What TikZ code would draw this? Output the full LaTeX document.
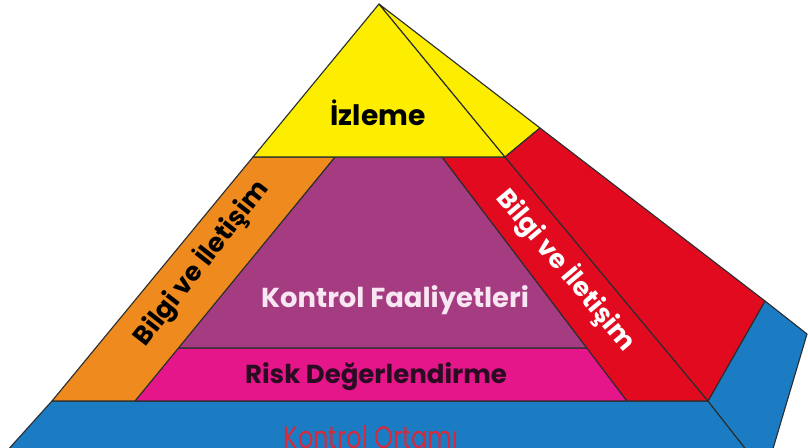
\documentclass[tikz,border=0pt]{standalone}
\usepackage{fontspec}
\setmainfont{Poppins}
\usetikzlibrary{positioning}
\definecolor{Yellow}{HTML}{FDEE00}
\definecolor{Orange}{HTML}{EE8A1E}
\definecolor{Mauve}{HTML}{A53B80}
\definecolor{Pink}{HTML}{E5168A}
\definecolor{Red}{HTML}{E20A1F}
\definecolor{Blue}{HTML}{1B7CC4}
\definecolor{Edge}{HTML}{2A2E2E}
\definecolor{Ink}{HTML}{2A0C22}
\definecolor{Soft}{HTML}{F8E6F2}
\definecolor{Base}{HTML}{D42A3C}

\begin{document}
\begin{tikzpicture}[x=0.025cm,y=-0.025cm,
    face/.style={draw=Edge,line width=0.8pt,line join=round},
    tag/.style={inner sep=0pt,anchor=base,font=\bfseries\fontsize{19.5}{22}\selectfont},
    side/.style={inner sep=0pt,font=\bfseries\fontsize{18.5}{20}\selectfont}
  ]
    \useasboundingbox (0,0) rectangle (808,447);
    \fill[white] (0,0) rectangle (808,447);
    \clip (0,0) rectangle (808,447);

    % base slab
    \draw[face,fill=Blue] (52,401) -- (708,401) -- (748,452) -- (6,452) -- cycle;
    \draw[face,fill=Blue] (708,401) -- (765,301) -- (807,334) -- (772,452)
      -- (748,452) -- cycle;

    % front faces
    \draw[face,fill=Pink] (135,401) -- (627,401) -- (587,348) -- (178,348) -- cycle;
    \draw[face,fill=Mauve] (178,348) -- (587,348) -- (442,157) -- (335,157) -- cycle;
    \draw[face,fill=Orange] (52,401) -- (135,401) -- (335,157) -- (253,157) -- cycle;
    \draw[face,fill=Red] (627,401) -- (708,401) -- (505,157) -- (442,157) -- cycle;
    \draw[face,fill=Yellow] (253,157) -- (505,157) -- (379,4) -- cycle;

    % side faces
    \draw[face,fill=Yellow] (379,4) -- (540,128) -- (505,157) -- cycle;
    \draw[face,fill=Red] (505,157) -- (540,128) -- (765,301) -- (708,401) -- cycle;

    \node[tag,font=\bfseries\fontsize{20}{22}\selectfont] (izl) at (378,125) {İzleme};
    \node[tag,text=Soft] (kfa) at (395,307) {Kontrol Faaliyetleri};
    \node[tag,text=Ink,font=\bfseries\fontsize{18.5}{21}\selectfont] (rde) at (376,383) {Risk Değerlendirme};
    \node[tag,text=Base,font=\fontsize{22}{24}\selectfont,xscale=0.78] (kor) at (371,448) {Kontrol Ortamı};
    \node[side,rotate=52] (bil) at (201,263) {Bilgi ve İletişim};
    \node[side,rotate=-50,text=white] (bir) at (566,270) {Bilgi ve İletişim};
\end{tikzpicture}
\end{document}
